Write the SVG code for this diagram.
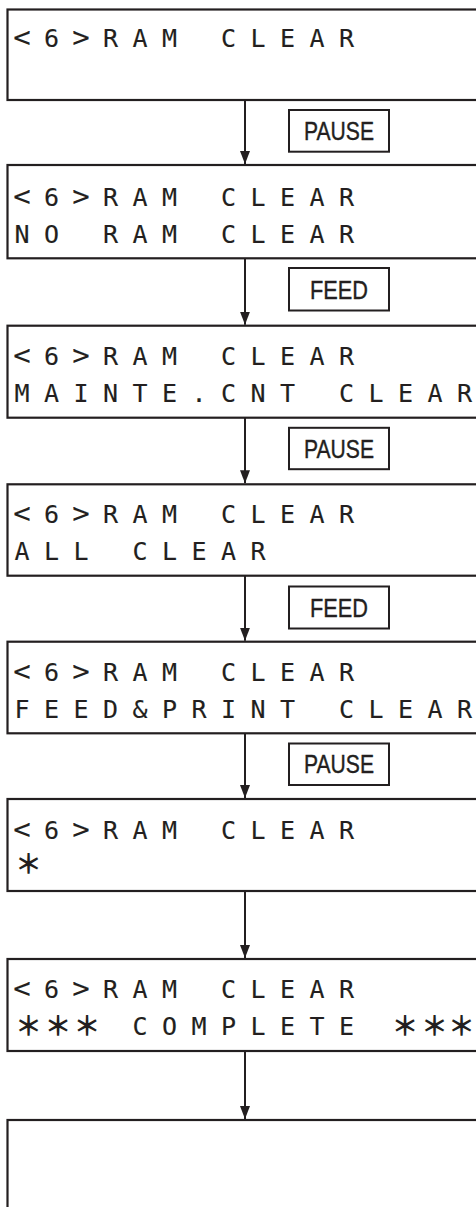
<svg xmlns="http://www.w3.org/2000/svg" width="476" height="1207" viewBox="0 0 476 1207">
<style>
.box{fill:#fff;stroke:#231f20;stroke-width:2.2}
.lcd{font-family:"DejaVu Sans Mono","Liberation Mono",monospace;font-size:25px;fill:#231f20;stroke:#231f20;stroke-width:0.12;text-anchor:middle}
.br{font-size:29px}
.ast{font-family:"Noto Sans CJK JP","DejaVu Sans",sans-serif;font-size:27px;font-weight:bold;fill:#231f20;text-anchor:middle}
.key{fill:#fff;stroke:#231f20;stroke-width:2}
.keyt{font-family:"Liberation Sans",Arial,sans-serif;font-size:26px;fill:#231f20;stroke:#231f20;stroke-width:0.4;text-anchor:middle}
.conn{stroke:#231f20;stroke-width:2;fill:none}
</style>
<defs>
<marker id="ah" markerUnits="userSpaceOnUse" markerWidth="13" markerHeight="10" refX="13" refY="5" orient="auto">
<path d="M0,0 L13,5 L0,10 z" fill="#231f20"/>
</marker>
</defs>
<g id="connectors">
<line class="conn" x1="245" y1="100" x2="245" y2="164" marker-end="url(#ah)"/>
<line class="conn" x1="245" y1="258.3" x2="245" y2="324.7" marker-end="url(#ah)"/>
<line class="conn" x1="245" y1="417.7" x2="245" y2="483.3" marker-end="url(#ah)"/>
<line class="conn" x1="245" y1="575.7" x2="245" y2="640.7" marker-end="url(#ah)"/>
<line class="conn" x1="245" y1="733.3" x2="245" y2="798" marker-end="url(#ah)"/>
<line class="conn" x1="245" y1="891" x2="245" y2="958" marker-end="url(#ah)"/>
<line class="conn" x1="245" y1="1051" x2="245" y2="1119" marker-end="url(#ah)"/>
</g>
<g id="key-pause-1"><rect class="key" x="289" y="110" width="100" height="41.7"/><text class="keyt" x="339" y="140.3" textLength="70" lengthAdjust="spacingAndGlyphs">PAUSE</text></g>
<g id="key-feed-1"><rect class="key" x="289" y="268" width="100" height="42.5"/><text class="keyt" x="339" y="298.8" textLength="58" lengthAdjust="spacingAndGlyphs">FEED</text></g>
<g id="key-pause-2"><rect class="key" x="289" y="427.8" width="100" height="41.4"/><text class="keyt" x="339" y="457.8" textLength="70" lengthAdjust="spacingAndGlyphs">PAUSE</text></g>
<g id="key-feed-2"><rect class="key" x="289" y="586.5" width="100" height="42"/><text class="keyt" x="339" y="616.8" textLength="58" lengthAdjust="spacingAndGlyphs">FEED</text></g>
<g id="key-pause-3"><rect class="key" x="289" y="743.5" width="100" height="41.5"/><text class="keyt" x="339" y="773.3" textLength="70" lengthAdjust="spacingAndGlyphs">PAUSE</text></g>

<g id="screen-1"><rect class="box" x="7.5" y="9.5" width="480" height="90.5"/>
<text class="lcd" x="22 51.5 81 110.5 140 169.5 199 228.5 258 287.5 317 346.5" y="47"><tspan class="br">&lt;</tspan>6<tspan class="br">&gt;</tspan>RAM CLEAR</text></g>

<g id="screen-2"><rect class="box" x="7.5" y="165" width="480" height="93.3"/>
<text class="lcd" x="22 51.5 81 110.5 140 169.5 199 228.5 258 287.5 317 346.5" y="205.5"><tspan class="br">&lt;</tspan>6<tspan class="br">&gt;</tspan>RAM CLEAR</text>
<text class="lcd" x="22 51.5 81 110.5 140 169.5 199 228.5 258 287.5 317 346.5" y="242.5">NO RAM CLEAR</text></g>

<g id="screen-3"><rect class="box" x="7.5" y="325.7" width="480" height="92"/>
<text class="lcd" x="22 51.5 81 110.5 140 169.5 199 228.5 258 287.5 317 346.5" y="365"><tspan class="br">&lt;</tspan>6<tspan class="br">&gt;</tspan>RAM CLEAR</text>
<text class="lcd" x="22 51.5 81 110.5 140 169.5 199 228.5 258 287.5 317 346.5 376 405.5 435 464.5" y="401.5">MAINTE.CNT CLEAR</text></g>

<g id="screen-4"><rect class="box" x="7.5" y="484.3" width="480" height="91.4"/>
<text class="lcd" x="22 51.5 81 110.5 140 169.5 199 228.5 258 287.5 317 346.5" y="523"><tspan class="br">&lt;</tspan>6<tspan class="br">&gt;</tspan>RAM CLEAR</text>
<text class="lcd" x="22 51.5 81 110.5 140 169.5 199 228.5 258" y="559.5">ALL CLEAR</text></g>

<g id="screen-5"><rect class="box" x="7.5" y="641.7" width="480" height="91.6"/>
<text class="lcd" x="22 51.5 81 110.5 140 169.5 199 228.5 258 287.5 317 346.5" y="681"><tspan class="br">&lt;</tspan>6<tspan class="br">&gt;</tspan>RAM CLEAR</text>
<text class="lcd" x="22 51.5 81 110.5 140 169.5 199 228.5 258 287.5 317 346.5 376 405.5 435 464.5" y="717.5">FEED&amp;PRINT CLEAR</text></g>

<g id="screen-6"><rect class="box" x="7.5" y="799" width="480" height="92"/>
<text class="lcd" x="22 51.5 81 110.5 140 169.5 199 228.5 258 287.5 317 346.5" y="839"><tspan class="br">&lt;</tspan>6<tspan class="br">&gt;</tspan>RAM CLEAR</text>
<text class="ast" x="28.5" y="874">＊</text></g>

<g id="screen-7"><rect class="box" x="7.5" y="959" width="480" height="92"/>
<text class="lcd" x="22 51.5 81 110.5 140 169.5 199 228.5 258 287.5 317 346.5" y="998"><tspan class="br">&lt;</tspan>6<tspan class="br">&gt;</tspan>RAM CLEAR</text>
<text class="ast" x="28.5 58 87" y="1036">＊＊＊</text>
<text class="lcd" x="140 169.5 199 228.5 258 287.5 317 346.5" y="1035">COMPLETE</text>
<text class="ast" x="405 434.5 461.5" y="1036">＊＊＊</text></g>

<g id="screen-8"><rect class="box" x="7.5" y="1120" width="480" height="200"/></g>
</svg>
